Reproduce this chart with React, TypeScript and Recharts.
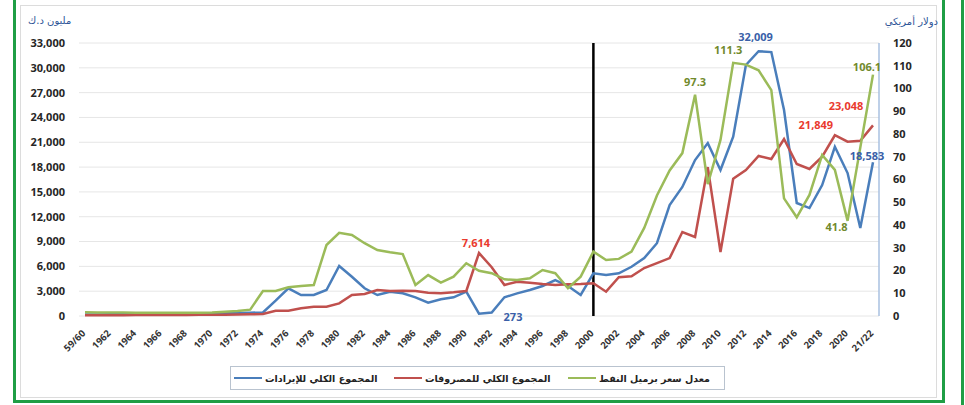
import { LineChart, Line, XAxis, YAxis, CartesianGrid, ReferenceLine } from 'recharts';

// سنوات مالية، كل سنة تمثل نقطة واحدة
const years = [
  '59/60', '1961', '1962', '1963', '1964', '1965', '1966', '1967', '1968', '1969',
  '1970', '1971', '1972', '1973', '1974', '1975', '1976', '1977', '1978', '1979',
  '1980', '1981', '1982', '1983', '1984', '1985', '1986', '1987', '1988', '1989',
  '1990', '1991', '1992', '1993', '1994', '1995', '1996', '1997', '1998', '1999',
  '2000', '2001', '2002', '2003', '2004', '2005', '2006', '2007', '2008', '2009',
  '2010', '2011', '2012', '2013', '2014', '2015', '2016', '2017', '2018', '2019',
  '2020', '2021', '21/22',
];

// المجموع الكلي للإيرادات (مليون د.ك)
const revenue = [
  180, 190, 200, 210, 220, 230, 240, 250, 260, 270,
  290, 320, 360, 400, 420, 1850, 3350, 2540, 2540, 3140,
  6040, 4750, 3350, 2540, 2940, 2740, 2260, 1610, 2020, 2260,
  2940, 273, 420, 2260, 2740, 3140, 3630, 4350, 3630, 2540,
  5160, 4950, 5160, 5950, 7000, 8800, 13400, 15600, 18850, 20900,
  17650, 21670, 30340, 32009, 31900, 24900, 13660, 13050, 15830, 20460,
  17280, 10640, 18583,
];

// المجموع الكلي للمصروفات (مليون د.ك)
const expenditure = [
  90, 95, 100, 105, 110, 115, 120, 125, 130, 140,
  150, 160, 180, 200, 250, 640, 640, 930, 1120, 1120,
  1530, 2540, 2660, 3140, 3020, 3060, 3020, 2820, 2740, 2860,
  3020, 7614, 5890, 3750, 4150, 4030, 3870, 3750, 3830, 3870,
  3950, 2940, 4680, 4800, 5800, 6400, 7000, 10150, 9550, 18000,
  7740, 16600, 17650, 19340, 18980, 21400, 18370, 17770, 19260, 21849,
  21070, 21190, 23048,
];

// معدل سعر برميل النفط (دولار أمريكي)
const oilPrice = [
  1.6, 1.5, 1.5, 1.5, 1.4, 1.4, 1.4, 1.4, 1.4, 1.4,
  1.5, 1.9, 2.2, 2.8, 11.0, 11.0, 12.6, 13.2, 13.6, 31.2,
  36.6, 35.6, 32.0, 29.0, 28.0, 27.2, 13.6, 18.0, 14.7, 17.3,
  23.2, 19.9, 18.8, 16.1, 15.8, 16.6, 20.2, 18.8, 12.2, 17.3,
  28.3, 24.6, 25.1, 28.3, 38.7, 53.0, 64.0, 71.6, 97.3, 58.0,
  77.4, 111.3, 110.5, 108.0, 99.3, 51.7, 43.4, 53.2, 70.8, 64.2,
  41.8, 74.0, 106.1,
];

const leftTicks = [0, 3000, 6000, 9000, 12000, 15000, 18000, 21000, 24000, 27000, 30000, 33000];
const rightTicks = [0, 10, 20, 30, 40, 50, 60, 70, 80, 90, 100, 110, 120];

// السنوات التي تظهر عليها قيمة النقطة
const revenueLabelYears = ['1991', '2013', '21/22'];
const expenditureLabelYears = ['1991', '2019', '21/22'];
const oilLabelYears = ['2008', '2011', '2020', '21/22'];

const data = years.map((year, i) => ({
  year,
  revenue: revenue[i],
  expenditure: expenditure[i],
  oil: oilPrice[i],
}));

const series = [
  { key: 'revenue', name: 'المجموع الكلي للإيرادات', color: '#4a7ebb' },
  { key: 'expenditure', name: 'المجموع الكلي للمصروفات', color: '#c0504d' },
  { key: 'oil', name: 'معدل سعر برميل النفط', color: '#9bbb59' },
];

// إزاحة كل تسمية عن نقطتها
const labelOffsets: Record<string, [number, number]> = {
  'revenue-1991': [34, 4],
  'revenue-2013': [-3, -13],
  'revenue-21/22': [-6, -5],
  'expenditure-1991': [-3, -9],
  'expenditure-2019': [-19, -9],
  'expenditure-21/22': [-27, -18],
  'oil-2008': [0, -12],
  'oil-2011': [-5, -12],
  'oil-2020': [-11, 7],
  'oil-21/22': [-6, -7],
};

const labelColors: Record<string, string> = {
  revenue: '#3a5fa8',
  expenditure: '#ea3a2e',
  oil: '#718a2c',
};

const fmt = (v: number) => v.toLocaleString('en-US');

function makeLabel(key: string, labelYears: string[], decimals: boolean) {
  return (props: any) => {
    const { x, y, index, value } = props;
    const year = years[index];
    if (!labelYears.includes(year)) return null;
    const [dx, dy] = labelOffsets[`${key}-${year}`] || [0, -10];
    return (
      <text
        key={`${key}-${year}`}
        x={x + dx}
        y={y + dy}
        textAnchor="middle"
        dominantBaseline="middle"
        fontSize={11}
        fontWeight={700}
        fontFamily="'Open Sans', sans-serif"
        fill={labelColors[key]}
      >
        {decimals ? Number(value).toFixed(1) : fmt(value)}
      </text>
    );
  };
}

const XTick = (props: any) => {
  const { x, y, payload } = props;
  const tx = x + 1;
  const ty = y + 18;
  return (
    <text
      x={tx}
      y={ty}
      transform={`rotate(-45, ${tx}, ${ty})`}
      textAnchor="end"
      fontSize={9.5}
      fontWeight={700}
      fontFamily="'Open Sans', sans-serif"
      fill="#333"
    >
      {payload.value}
    </text>
  );
};

const tickStyle = { fontSize: 11, fontWeight: 700, fill: '#262626', fontFamily: "'Open Sans', sans-serif" };
const arabic = "'DejaVu Sans', sans-serif";
const legendWidths = [160, 174, 150];

export default function App() {
  return (
    <div style={{ position: 'absolute', left: 0, top: 0, width: 965, height: 405, background: '#fff', overflow: 'hidden' }}>
      {/* إطار الصفحة */}
      <div style={{ position: 'absolute', left: 20, top: 5, width: 915, height: 391, border: '1px solid #dcdcdc' }} />
      <div style={{ position: 'absolute', left: 13, top: -6, width: 926, height: 403, border: '3px solid #1f9e45' }} />
      <div style={{ position: 'absolute', left: 961, top: 0, width: 3, height: 405, background: '#1f9e45' }} />

      <div style={{ position: 'absolute', left: 28, top: 15, fontSize: 10, color: '#2e5597', fontFamily: arabic, direction: 'rtl' }}>
        مليون د.ك
      </div>
      <div style={{ position: 'absolute', left: 886, top: 16, width: 52, fontSize: 10, color: '#2e5597', fontFamily: arabic, direction: 'rtl', whiteSpace: 'nowrap' }}>
        دولار أمريكي
      </div>

      <div style={{ position: 'absolute', left: 0, top: 0 }}>
        <LineChart width={965} height={405} data={data} margin={{ top: 43, right: 26, bottom: 29, left: 19 }}>
          <CartesianGrid yAxisId="left" vertical={false} stroke="#e6e6e6" />
          <XAxis
            dataKey="year"
            interval={1}
            tick={<XTick />}
            tickLine={false}
            axisLine={false}
            tickSize={0}
            tickMargin={0}
            height={60}
            padding={{ left: 6, right: 6 }}
          />
          <YAxis
            yAxisId="left"
            domain={[0, 33000]}
            ticks={leftTicks}
            tickFormatter={fmt}
            width={60}
            axisLine={false}
            tickLine={false}
            tickSize={0}
            tickMargin={14}
            tick={tickStyle}
          />
          <YAxis
            yAxisId="right"
            orientation="right"
            domain={[0, 120]}
            ticks={rightTicks}
            width={60}
            axisLine={{ stroke: '#a8c0e0', strokeWidth: 1.5 }}
            tickLine={false}
            tickSize={0}
            tickMargin={14}
            tick={{ ...tickStyle, textAnchor: 'start' }}
          />
          <ReferenceLine yAxisId="left" x="2000" stroke="#000" strokeWidth={2.5} />
          <Line
            yAxisId="left"
            dataKey="revenue"
            stroke={series[0].color}
            strokeWidth={2.5}
            dot={false}
            activeDot={false}
            isAnimationActive={false}
            label={makeLabel('revenue', revenueLabelYears, false)}
          />
          <Line
            yAxisId="left"
            dataKey="expenditure"
            stroke={series[1].color}
            strokeWidth={2.5}
            dot={false}
            activeDot={false}
            isAnimationActive={false}
            label={makeLabel('expenditure', expenditureLabelYears, false)}
          />
          <Line
            yAxisId="right"
            dataKey="oil"
            stroke={series[2].color}
            strokeWidth={2.5}
            dot={false}
            activeDot={false}
            isAnimationActive={false}
            label={makeLabel('oil', oilLabelYears, true)}
          />
        </LineChart>
      </div>

      {/* وسيلة الإيضاح */}
      <div
        style={{
          position: 'absolute',
          left: 230,
          top: 366,
          width: 495,
          height: 24,
          border: '1px solid #b9c3cf',
          boxSizing: 'border-box',
          display: 'flex',
          alignItems: 'center',
          paddingLeft: 3,
          fontFamily: arabic,
          fontSize: 9.5,
          fontWeight: 700,
          color: '#222',
        }}
      >
        {series.map((s, i) => (
          <div key={s.key} style={{ width: legendWidths[i], display: 'flex', alignItems: 'center', whiteSpace: 'nowrap' }}>
            <div style={{ width: 28, height: 2, background: s.color, marginRight: 3 }} />
            <span style={{ direction: 'rtl' }}>{s.name}</span>
          </div>
        ))}
      </div>
    </div>
  );
}
